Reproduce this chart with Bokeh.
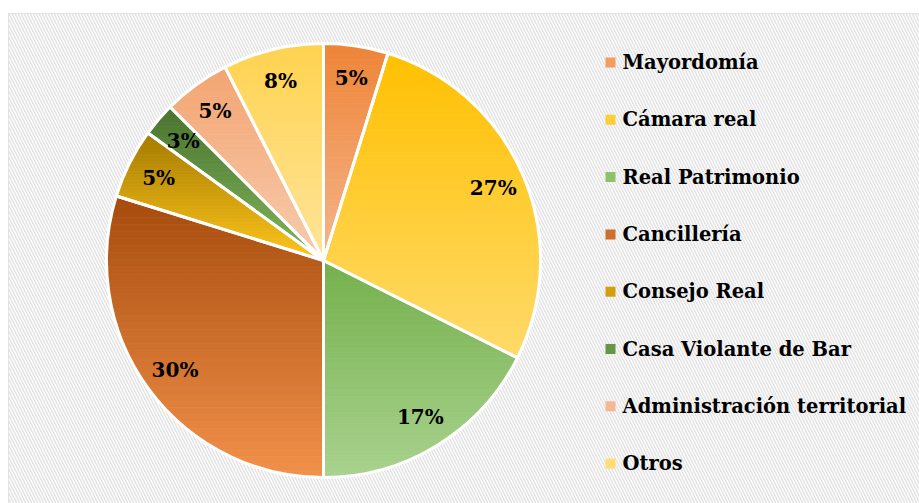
import numpy as np
from bokeh.plotting import figure
from bokeh.models import BoxAnnotation, Range1d
from bokeh.core.properties import value
from bokeh.embed import file_html
from bokeh.resources import INLINE

# ---------------- data ----------------
categories = ["Mayordomía", "Cámara real", "Real Patrimonio", "Cancillería",
              "Consejo Real", "Casa Violante de Bar", "Administración territorial", "Otros"]
shares = [4.8, 27.6, 17.6, 29.8, 5.2, 2.5, 5.0, 7.5]
pct_labels = ["5%", "27%", "17%", "30%", "5%", "3%", "5%", "8%"]

# ---------------- styles ----------------
colors_top = ["#EE8436", "#FFC000", "#74B04C", "#A64B0D", "#A47A00", "#4A722E", "#F3A471", "#FFD34F"]
colors_bottom = ["#F5B68C", "#FFDA6A", "#A9D28E", "#F2914A", "#FFC61C", "#82B95C", "#F8CCAE", "#FFE49A"]
FONT = "DejaVu Serif"

W, H = 919, 503
LEFT, TOP = 8, 13
FW, FH = W - LEFT, H - TOP
cx, cy, R = 315.0, 243.0, 217.0


def hex2rgb(h):
    h = h.lstrip("#")
    return np.array([int(h[i:i + 2], 16) for i in (0, 2, 4)], dtype=float)


def mix(c1, c2, t):
    c = hex2rgb(c1) * (1 - t) + hex2rgb(c2) * t
    return "#%02x%02x%02x" % tuple(int(round(v)) for v in c)


def clip(poly, y, keep_above):
    out = []
    n = len(poly)
    for i in range(n):
        cur = poly[i]
        prev = poly[i - 1]
        cin = cur[1] >= y if keep_above else cur[1] <= y
        pin = prev[1] >= y if keep_above else prev[1] <= y

        def inter():
            t = (y - prev[1]) / (cur[1] - prev[1])
            return (prev[0] + t * (cur[0] - prev[0]), y)
        if cin:
            if not pin:
                out.append(inter())
            out.append(cur)
        elif pin:
            out.append(inter())
    return out


p = figure(width=W, height=H, x_range=Range1d(0, FW), y_range=Range1d(0, FH),
           output_backend="svg", toolbar_location=None,
           x_axis_location=None, y_axis_location=None,
           min_border_left=LEFT, min_border_right=0, min_border_top=TOP, min_border_bottom=0)
p.grid.visible = False
p.outline_line_color = "#D9D9D9"
p.outline_line_width = 1
p.background_fill_color = "#FFFFFF"
p.border_fill_color = "#FFFFFF"

p.add_layout(BoxAnnotation(fill_color="#FFFFFF", fill_alpha=1.0, line_color=None,
                           hatch_pattern="\\", hatch_color="#E4E4E4",
                           hatch_scale=6, hatch_weight=1.6, level="underlay"))

fr = np.array(shares, dtype=float) / np.sum(shares)
cum = np.concatenate([[0.0], np.cumsum(fr)])
start = np.pi / 2 - 2 * np.pi * cum[:-1]
end = np.pi / 2 - 2 * np.pi * cum[1:]

xs_all, ys_all, cols = [], [], []
NB = 40
for i in range(len(shares)):
    th = np.linspace(start[i], end[i], 80)
    poly = [(cx, cy)] + [(cx + R * np.cos(t), cy + R * np.sin(t)) for t in th]
    ymin = min(q[1] for q in poly)
    ymax = max(q[1] for q in poly)
    edges = np.linspace(ymax, ymin, NB + 1)
    for b in range(NB):
        band = clip(poly, edges[b + 1], True)
        band = clip(band, edges[b], False) if band else []
        if len(band) < 3:
            continue
        xs_all.append([q[0] for q in band])
        ys_all.append([q[1] for q in band])
        cols.append(mix(colors_top[i], colors_bottom[i], (b + 0.5) / NB))

p.patches(xs_all, ys_all, fill_color=cols, line_color=cols, line_width=0.8)
p.wedge(x=cx, y=cy, radius=R, start_angle=list(start), end_angle=list(end),
        direction="clock", fill_color=None, line_color="white", line_width=3)

mid = (cum[:-1] + cum[1:]) / 2
lang = np.pi / 2 - 2 * np.pi * mid
lr = R * 0.85
p.text(x=list(cx + lr * np.cos(lang)), y=list(cy + lr * np.sin(lang)), text=pct_labels,
       text_font=value(FONT), text_font_style="bold", text_font_size="20px",
       text_color="#000000", text_align="center", text_baseline="middle")

# legend
leg_x = 602.0
leg_y0 = 441.0
leg_step = 57.3
ly = [leg_y0 - k * leg_step for k in range(len(categories))]
leg_cols = [mix(colors_top[i], colors_bottom[i], 0.5) for i in range(len(categories))]
p.scatter(x=[leg_x] * len(categories), y=ly, marker="square", size=10,
          fill_color=leg_cols, line_color=None)
p.text(x=[leg_x + 12] * len(categories), y=ly, text=categories,
       text_font=value(FONT), text_font_style="bold", text_font_size="19.5px",
       text_color="#000000", text_align="left", text_baseline="middle")

open("out.html", "w").write(file_html(p, INLINE))
